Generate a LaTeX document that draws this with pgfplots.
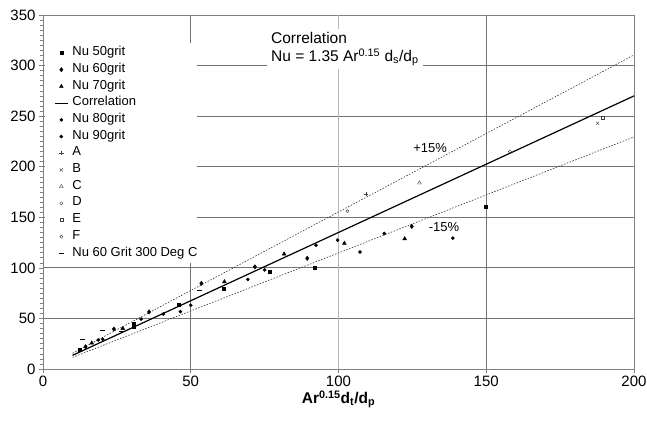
\documentclass[border=0pt]{standalone}
\usepackage{pgfplots}
\pgfplotsset{compat=1.18}
\usepackage{pgfplotstable}
\usepackage{fontspec}
\setmainfont{Liberation Sans}
\definecolor{gridc}{gray}{0.45}
\definecolor{gridl}{gray}{0.72}
\definecolor{framec}{gray}{0.5}
\definecolor{openc}{gray}{0.25}

\pgfplotstableread{
x y
12.3 19.5
30.6 44.5
30.6 41.8
46.0 64.0
61.3 79.4
76.7 96.0
91.8 100.0
149.8 160.0
}\gritfifty
\pgfplotstableread{
x y
14.4 22.0
24.0 39.5
35.9 56.4
53.6 84.7
71.7 101.0
89.4 109.4
124.8 141.0
}\gritsixty
\pgfplotstableread{
x y
16.5 25.7
27.0 40.0
61.4 86.3
81.6 113.7
102.0 124.3
122.4 128.8
}\gritseventy
\pgfplotstableread{
x y
18.7 28.7
33.2 49.4
46.5 56.7
69.3 88.6
92.4 122.3
107.3 115.7
138.7 129.5
}\criteighty
\pgfplotstableread{
x y
20.2 29.4
40.7 54.4
50.0 63.0
75.0 98.0
99.7 127.5
115.5 134.0
}\gritninety
\pgfplotstableread{
x y
13.3 29.4
20.0 37.9
26.6 37.6
52.8 77.4
}\hotsixty

\begin{document}
\begin{tikzpicture}
\begin{axis}[
  scale only axis,
  width=591bp, height=354bp,
  xmin=0, xmax=200, ymin=0, ymax=350,
  xtick={0,50,150,200},
  extra x ticks={100},
  extra x tick style={grid style={gridl, line width=0.8bp}},
  ytick={0,50,...,350},
  minor x tick num=4,
  minor y tick num=9,
  tick align=outside,
  tick pos=left,
  major tick length=4bp,
  minor tick length=3bp,
  tick style={framec, line width=0.6bp},
  grid=major,
  grid style={gridc, line width=0.8bp},
  axis line style={framec, line width=0.8bp},
  /pgf/number format/assume math mode=true,
  ticklabel style={font=\fontsize{15bp}{17bp}\selectfont},
  xlabel={\textbf{Ar\textsuperscript{0.15}d\textsubscript{t}/d\textsubscript{p}}},
  xlabel style={font=\fontsize{15.5bp}{17bp}\selectfont, yshift=11bp},
  legend style={at={(0.0035,0.921)}, anchor=north west, draw=none, fill=white,
    inner xsep=0bp, inner ysep=1.5bp, row sep=0bp, column sep=0bp,
    font=\fontsize{13bp}{15bp}\selectfont,
    nodes={inner sep=0bp, text height=11bp, text depth=5.7bp, right}},
  legend cell align=left,
  myleg/.style={legend image code/.code={\path (0bp,0bp) (20bp,0bp);\draw[mark repeat=2,mark phase=2,##1] plot coordinates {(9bp,0bp) (15.5bp,0bp) (22bp,0bp)};}},
  mylineleg/.style={legend image code/.code={\path (0bp,0bp) (26bp,0bp);\draw[##1] (9bp,0bp) -- (22.5bp,0bp);}},
]
\coordinate (SW) at (rel axis cs:0,0);
\coordinate (NE) at (rel axis cs:1,1);

\addplot[only marks, mark=square*, mark size=1.5bp, black, myleg] table {\gritfifty};
\addlegendentry{Nu 50grit}
\addplot[only marks, mark=diamond*, mark size=2.2bp, black, myleg] table {\gritsixty};
\addlegendentry{Nu 60grit}
\addplot[only marks, mark=triangle*, mark size=2.2bp, black, myleg] table {\gritseventy};
\addlegendentry{Nu 70grit}
\addplot[black, line width=1.2bp, mylineleg] coordinates {(10,13.5) (200,270)};
\addlegendentry{Correlation}
\addplot[only marks, mark=*, mark size=1.6bp, black, myleg] table {\criteighty};
\addlegendentry{Nu 80grit}
\addplot[only marks, mark=*, mark size=1.6bp, black, myleg] table {\gritninety};
\addlegendentry{Nu 90grit}
\addplot[only marks, mark=+, mark size=2.2bp, openc, myleg] coordinates {(109.3,173)};
\addlegendentry{A}
\addplot[only marks, mark=x, mark size=2.2bp, openc, myleg] coordinates {(187.7,243)};
\addlegendentry{B}
\addplot[only marks, mark=triangle, mark size=2.2bp, openc, myleg] coordinates {(127.4,184)};
\addlegendentry{C}
\addplot[only marks, mark=o, mark size=1.6bp, openc, myleg] coordinates {(103,156)};
\addlegendentry{D}
\addplot[only marks, mark=square, mark size=1.6bp, openc, myleg] coordinates {(189.3,248.5)};
\addlegendentry{E}
\addplot[only marks, mark=o, mark size=1.6bp, openc, myleg] coordinates {(158,215)};
\addlegendentry{F}
\addplot[only marks, mark=-, mark size=2.5bp, black, line width=0.8bp, myleg] table {\hotsixty};
\addlegendentry{Nu 60 Grit 300 Deg C}

\addplot[forget plot, black!80, dash pattern=on 1.5bp off 1.5bp, line width=0.6bp] coordinates {(10,15.5) (200,310.5)};
\addplot[forget plot, black!80, dash pattern=on 1.5bp off 1.5bp, line width=0.6bp] coordinates {(10,11.5) (200,229.5)};

\node[fill=white, inner xsep=4bp, inner ysep=3bp, anchor=north west, align=left,
  font=\fontsize{15.5bp}{18bp}\selectfont] at (axis cs:75.8,336)
  {Correlation\\Nu = 1.35 Ar\textsuperscript{0.15} d\textsubscript{s}/d\textsubscript{p}};
\node[font=\fontsize{13bp}{15bp}\selectfont] at (axis cs:131,218.5) {+15\%};
\node[font=\fontsize{13bp}{15bp}\selectfont] at (axis cs:135.7,140.4) {-15\%};
\end{axis}
\pgfresetboundingbox
\path ([shift={(-43bp,-57bp)}]SW) rectangle ([shift={(13bp,15bp)}]NE);
\end{tikzpicture}
\end{document}
